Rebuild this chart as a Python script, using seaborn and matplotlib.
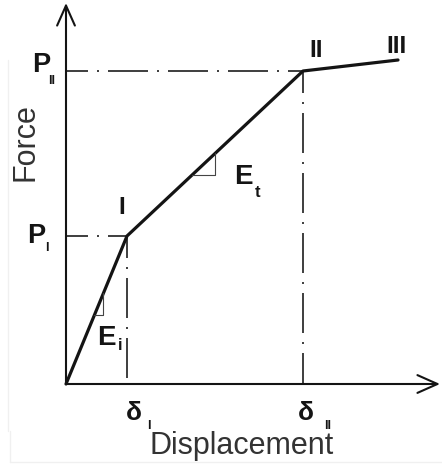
import matplotlib
matplotlib.use("Agg")
import matplotlib.pyplot as plt
import seaborn as sns
from matplotlib.lines import Line2D

# Trilinear force-displacement model, schematic units
stage_names = ["I", "II", "III"]
displacement = [0, 61, 237, 332]
force = [0, 148, 313, 324]
x_axis_end = 374
y_axis_end = 381

sns.set_theme(style="white")
plt.rcParams["font.family"] = ["Liberation Sans", "DejaVu Sans"]
plt.rcParams["lines.scale_dashes"] = False

fig = plt.figure(figsize=(4.42, 4.65), dpi=100)
ax = fig.add_axes([0, 0, 1, 1])
ax.set_xlim(-66, 376)
ax.set_ylim(-81, 384)
ax.set_axis_off()

PX = 0.72  # points per pixel at 100 dpi
INK = "#141414"

# coordinate axes with open arrow heads
arrow = dict(arrowstyle="->,head_length=0.72,head_width=0.32", lw=1.5,
             color=INK, mutation_scale=20, shrinkA=0, shrinkB=0)
ax.annotate("", xy=(0, y_axis_end), xytext=(0, 0), arrowprops=arrow)
ax.annotate("", xy=(x_axis_end, 0), xytext=(0, 0), arrowprops=arrow)

# dash-dot projection lines of the two yield points
dashdot = (18 * PX, (40 * PX, 9 * PX, 2 * PX, 9 * PX))
for d, f in zip(displacement[1:3], force[1:3]):
    ax.plot([0, d], [f, f], ls=dashdot, lw=1.2, color="#1e1e1e")
    ax.plot([d, d], [f, 0], ls=dashdot, lw=1.2, color="#1e1e1e")

# the force-displacement curve
sns.lineplot(x=displacement, y=force, ax=ax, color=INK, lw=2.3,
             sort=False, estimator=None)


def slope_triangle(seg, y_base, dx):
    x0, x1 = displacement[seg], displacement[seg + 1]
    y0, y1 = force[seg], force[seg + 1]
    k = (y1 - y0) / (x1 - x0)
    xa = x0 + (y_base - y0) / k
    xb = xa + dx
    yb = y0 + k * (xb - x0)
    ax.plot([xa, xb, xb], [y_base, y_base, yb], color="#444444", lw=0.8)


slope_triangle(0, 69, 9)
slope_triangle(1, 209, 23)

# axis titles
ax.text(-33, 242, "Force", rotation=90, rotation_mode="anchor",
        ha="center", va="baseline", fontsize=22, color="#333333")
ax.text(176, -70, "Displacement", ha="center", va="baseline",
        fontsize=22, color="#333333")


def bold(x, y, s, size, ha="left", va="baseline"):
    ax.text(x, y, s, fontsize=size, fontweight="bold", ha=ha, va=va, color=INK)


# force levels
bold(-16, 312, "P", 19.5, ha="right")
bold(-17.5, 309, "II", 9, va="top")
bold(-21, 141, "P", 19.5, ha="right")
bold(-19, 142, "I", 9, ha="center", va="top")

# displacement levels
bold(67.5, -36, "δ", 19, ha="center")
bold(83, -36, "I", 9, ha="center", va="top")
bold(240, -36, "δ", 19, ha="center")
bold(261.5, -36, "II", 9, ha="center", va="top")

# stiffness labels
bold(31, 39, "E", 20)
bold(54, 34, "i", 12, ha="center")
bold(168, 200, "E", 20)
bold(192, 187, "t", 12, ha="center")

# stage numerals
for name, x, y in zip(stage_names, [56, 250, 331], [170, 327, 331]):
    bold(x, y, name, 17.5, ha="center")

# faint frame edge
for xs, ys in [([8, 8], [60, 431]), ([10, 10], [431, 462]), ([10, 442], [462, 462])]:
    fig.add_artist(Line2D([v / 442 for v in xs], [1 - v / 465 for v in ys],
                          transform=fig.transFigure, color="#f0f0f0", lw=1))

fig.savefig("out.png", dpi=100)
